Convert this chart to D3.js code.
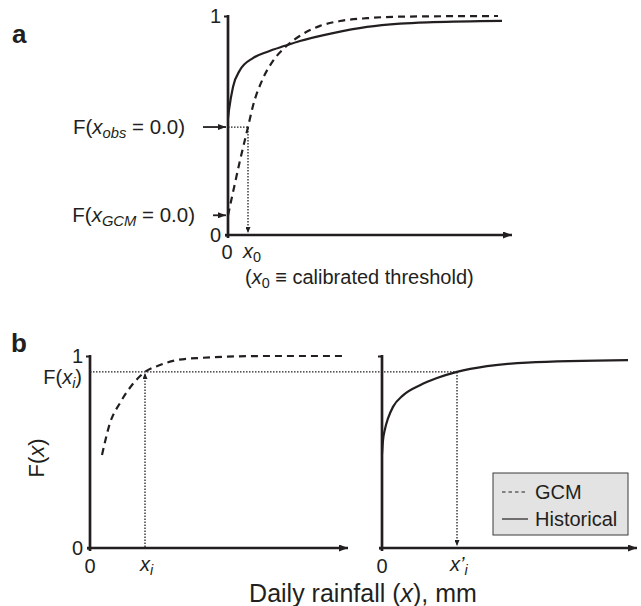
<!DOCTYPE html>
<html><head><meta charset="utf-8">
<script src="https://cdn.jsdelivr.net/npm/d3@7"></script>
<style>
body{margin:0;background:#fff}
text{font-family:"Liberation Sans",Arial,Helvetica,sans-serif;fill:#231f20}
</style>
</head><body>
<svg id="chart" width="641" height="606"></svg>
<script>
// ---------------- data ----------------
// Panel a: CDFs of daily rainfall (x in arbitrary mm units)
const aGcmX  = [0, 0.5, 1.2, 2.0, 2.5, 3.5, 4.5, 5.9, 7.2, 9.2, 11.2, 13.9, 17.2, 27.0];
const aGcmF  = [0.09, 0.195, 0.34, 0.493, 0.59, 0.715, 0.795, 0.865, 0.91, 0.955, 0.977, 0.99, 0.997, 1.0];
const aHistX = [0, 0.1, 0.5, 1.2, 2.5, 3.9, 5.7, 7.2, 10.5, 13.9, 17.2, 20.5, 27.4];
const aHistF = [0.534, 0.571, 0.676, 0.753, 0.808, 0.836, 0.864, 0.886, 0.922, 0.950, 0.965, 0.972, 0.978];
const aThreshold = 2.0;      // x0, calibrated threshold
const aObsZeroF  = 0.493;    // F(x_obs = 0.0)
const aGcmZeroF  = 0.09;     // F(x_GCM = 0.0)

// Panel b: quantile mapping
const bGcmX  = [1.2, 2.0, 3.0, 4.2, 5.5, 7.0, 8.7, 11.0, 17.7, 25.2];
const bGcmF  = [0.484, 0.651, 0.755, 0.849, 0.917, 0.953, 0.979, 0.99, 1.0, 1.0];
const bHistX = [0, 0.1, 0.3, 0.6, 1.1, 2.1, 3.8, 5.5, 7.5, 10.5, 14.5, 24.6];
const bHistF = [0.49, 0.56, 0.62, 0.675, 0.735, 0.795, 0.848, 0.885, 0.917, 0.947, 0.966, 0.979];
const bXi      = 5.5;
const bXiPrime = 7.5;
const bFxi     = 0.917;

const yTickValues = [0, 1];
const legendLabels = ["GCM", "Historical"];

// ---------------- drawing ----------------
const svg = d3.select("#chart");
const ink = "#231f20";
const defs = svg.append("defs");
function marker(id, w, h) {
  defs.append("marker").attr("id", id)
    .attr("viewBox", `0 0 ${w} ${h}`).attr("refX", w).attr("refY", h/2)
    .attr("markerWidth", w).attr("markerHeight", h).attr("markerUnits", "userSpaceOnUse")
    .attr("orient", "auto")
    .append("path").attr("d", `M0,0L${w},${h/2}L0,${h}Z`).attr("fill", ink);
}
marker("axArrow", 9, 7);
marker("smArrow", 6, 5);
marker("lblArrow", 8, 6);

const zip = (xs, ys) => xs.map((x, i) => [x, ys[i]]);

function drawFrame(g, xs, ys, opts) {
  const [x0, x1] = xs.range();
  const [y0, y1] = ys.range();
  const yAx = d3.axisLeft(ys).tickValues(opts.yTicks).tickSize(4).tickPadding(3)
    .tickFormat(opts.yLabels ? d3.format("d") : () => "");
  const ga = g.append("g").attr("transform", `translate(${x0},0)`).call(yAx);
  ga.select(".domain").remove();
  ga.selectAll(".tick line").attr("stroke", ink).attr("stroke-width", 2);
  ga.selectAll(".tick text").attr("font-size", 20).attr("fill", ink)
    .attr("font-family", '"Liberation Sans",Arial,sans-serif');
  ga.selectAll(".tick").filter(d => d === 0).select("line").attr("x2", -3);
  g.append("line").attr("x1", x0).attr("x2", x0).attr("y1", y0 + 3).attr("y2", y1 - 1)
    .attr("stroke", ink).attr("stroke-width", 2.7);
  g.append("line").attr("x1", x0 - 3).attr("x2", x1).attr("y1", y0).attr("y2", y0)
    .attr("stroke", ink).attr("stroke-width", 2.7).attr("marker-end", "url(#axArrow)");
}

const line = (xs, ys) => d3.line().x(d => xs(d[0])).y(d => ys(d[1])).curve(d3.curveMonotoneX);

function mathLabel(g, x, y, anchor, size, parts) {
  const t = g.append("text").attr("x", x).attr("y", y).attr("text-anchor", anchor)
    .attr("font-size", size).attr("fill", ink);
  parts.forEach(p => {
    const s = t.append("tspan").text(p.t);
    if (p.i) s.attr("font-style", "italic");
    if (p.sub) s.attr("font-size", size * 0.72).attr("dy", size * 0.2);
    if (p.up) s.attr("dy", -size * 0.2);
  });
  return t;
}

// ---- Panel a ----
const xA = d3.scaleLinear().domain([0, 28.4]).range([228, 512]);
const yA = d3.scaleLinear().domain([0, 1]).range([235, 16]);
const gA = svg.append("g");
drawFrame(gA, xA, yA, {yTicks: yTickValues, yLabels: true});

gA.append("path").datum(zip(aHistX, aHistF)).attr("d", line(xA, yA))
  .attr("fill", "none").attr("stroke", ink).attr("stroke-width", 2.2);
gA.append("path").datum(zip(aGcmX, aGcmF)).attr("d", line(xA, yA))
  .attr("fill", "none").attr("stroke", ink).attr("stroke-width", 2.2).attr("stroke-dasharray", "7,5");

gA.append("path")
  .attr("d", `M${xA(0)},${yA(aObsZeroF)}H${xA(aThreshold)}V${yA(0) - 2}`)
  .attr("fill", "none").attr("stroke", ink).attr("stroke-width", 1.3).attr("stroke-dasharray", "1.5,1.5")
  .attr("marker-end", "url(#smArrow)");

[[aObsZeroF, "obs", 185], [aGcmZeroF, "GCM", 195]].forEach(([f, sub, xe]) => {
  mathLabel(gA, xe, yA(f) + 7, "end", 20.5,
    [{t: "F("}, {t: "x", i: true}, {t: sub, i: true, sub: true}, {t: " = 0.0)", up: true}]);
  gA.append("line").attr("x1", xe + 18).attr("x2", xA(0) - 2).attr("y1", yA(f)).attr("y2", yA(f))
    .attr("stroke", ink).attr("stroke-width", 1.8).attr("marker-end", "url(#lblArrow)");
});

gA.append("text").attr("x", xA(0) - 1).attr("y", yA(0) + 24).attr("text-anchor", "middle")
  .attr("font-size", 20).text("0");
mathLabel(gA, xA(aThreshold) - 5, yA(0) + 23, "start", 20, [{t: "x", i: true}, {t: "0", sub: true}]);
mathLabel(gA, 245, 284, "start", 20,
  [{t: "("}, {t: "x", i: true}, {t: "0", sub: true}, {t: " \u2261 calibrated threshold)", up: true}]);

svg.append("text").attr("x", 12).attr("y", 43).attr("font-size", 26).attr("font-weight", "bold").text("a");
svg.append("text").attr("x", 11).attr("y", 352).attr("font-size", 26).attr("font-weight", "bold").text("b");

// ---- Panel b ----
const yB = d3.scaleLinear().domain([0, 1]).range([548, 356]);
const xBL = d3.scaleLinear().domain([0, 25.8]).range([90, 348]);
const xBR = d3.scaleLinear().domain([0, 25.5]).range([382, 637]);
const gB = svg.append("g");
drawFrame(gB, xBL, yB, {yTicks: yTickValues, yLabels: true});
drawFrame(gB, xBR, yB, {yTicks: [0, 1], yLabels: false});

gB.append("path").datum(zip(bGcmX, bGcmF)).attr("d", line(xBL, yB))
  .attr("fill", "none").attr("stroke", ink).attr("stroke-width", 2.2).attr("stroke-dasharray", "7,5");
gB.append("path").datum(zip(bHistX, bHistF)).attr("d", line(xBR, yB))
  .attr("fill", "none").attr("stroke", ink).attr("stroke-width", 2.2);

const dotted = (d, arrow) => gB.append("path").attr("d", d).attr("fill", "none").attr("stroke", ink)
  .attr("stroke-width", 1.3).attr("stroke-dasharray", "1.5,1.5")
  .attr("marker-end", arrow ? "url(#smArrow)" : null);
dotted(`M${xBL(bXi)},${yB(0) - 1}V${yB(bFxi) + 1}`, true);
dotted(`M${xBL(0)},${yB(bFxi)}H${xBR(bXiPrime)}`, false);
dotted(`M${xBR(bXiPrime)},${yB(bFxi)}V${yB(0) - 2}`, true);

mathLabel(gB, 82, yB(bFxi) + 12, "end", 20, [{t: "F("}, {t: "x", i: true}, {t: "i", i: true, sub: true}, {t: ")", up: true}]);
gB.append("text").attr("x", xBL(0)).attr("y", yB(0) + 25).attr("text-anchor", "middle").attr("font-size", 20).text("0");
gB.append("text").attr("x", xBR(0)).attr("y", yB(0) + 25).attr("text-anchor", "middle").attr("font-size", 20).text("0");
mathLabel(gB, xBL(bXi) - 5, yB(0) + 23, "start", 20, [{t: "x", i: true}, {t: "i", i: true, sub: true}]);
mathLabel(gB, xBR(bXiPrime) - 7, yB(0) + 23, "start", 20, [{t: "x\u2019", i: true}, {t: "i", i: true, sub: true}]);

const yt = gB.append("text").attr("transform", "translate(44,458) rotate(-90)").attr("text-anchor", "middle")
  .attr("font-size", 22);
yt.append("tspan").text("F(");
yt.append("tspan").attr("font-style", "italic").text("x");
yt.append("tspan").text(")");
const xt = gB.append("text").attr("x", 363).attr("y", 602).attr("text-anchor", "middle").attr("font-size", 25);
xt.append("tspan").text("Daily rainfall (");
xt.append("tspan").attr("font-style", "italic").text("x");
xt.append("tspan").text("), mm");

const lg = gB.append("g");
lg.append("rect").attr("x", 493).attr("y", 473).attr("width", 135).attr("height", 62)
  .attr("fill", "#e3e3e3").attr("stroke", "#3a3a3a").attr("stroke-width", 1);
legendLabels.forEach((lab, i) => {
  const y = 492 + i * 27;
  lg.append("line").attr("x1", 502).attr("x2", 528).attr("y1", y).attr("y2", y)
    .attr("stroke", ink).attr("stroke-width", 1.2).attr("stroke-dasharray", i === 0 ? "3.5,3" : null);
  lg.append("text").attr("x", 535).attr("y", y + 7).attr("font-size", 20).text(lab);
});
</script>
</body></html>
